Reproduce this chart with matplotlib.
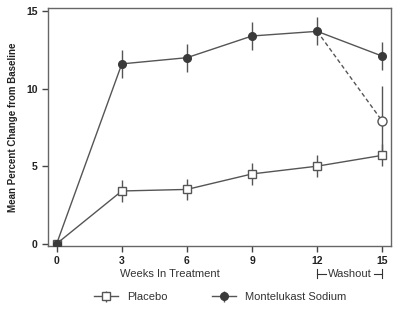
import matplotlib.pyplot as plt
import matplotlib.transforms as mtransforms

plt.rcParams['font.family'] = ['Liberation Sans', 'DejaVu Sans']

weeks = [0, 3, 6, 9, 12, 15]
montelukast = [0, 11.6, 12.0, 13.4, 13.7, 12.1]
montelukast_err = [0, 0.9, 0.9, 0.9, 0.9, 0.9]
placebo = [0, 3.4, 3.5, 4.5, 5.0, 5.7]
placebo_err = [0, 0.7, 0.7, 0.7, 0.7, 0.7]
washout_week = [12, 15]
washout = [13.7, 7.9]
washout_err = 2.3

c = '#3a3a3a'
fig = plt.figure(figsize=(4, 3.11), dpi=100)
ax = fig.add_axes([0.12, 0.209, 0.8575, 0.765])

ax.errorbar(weeks, placebo, yerr=placebo_err, color='#555555', lw=1,
            marker='s', ms=5.5, mfc='white', mec='#555555', elinewidth=1, capsize=0,
            label='Placebo', zorder=3)
ax.errorbar(weeks, montelukast, yerr=montelukast_err, color='#555555', lw=1,
            marker='o', ms=5.5, mfc=c, mec=c, elinewidth=1, capsize=0,
            label='Montelukast Sodium', zorder=4)
ax.plot(washout_week, washout, ls=(0, (3, 2)), color='#555555', lw=1, zorder=2)
ax.errorbar([washout_week[1]], [washout[1]], yerr=washout_err, color='#555555',
            marker='o', ms=6.5, mfc='white', mec='#555555', elinewidth=1, capsize=0,
            ls='none', zorder=3)

ax.set_xlim(-0.4, 15.4)
ax.set_ylim(-0.15, 15.2)
ax.set_xticks(weeks)
ax.set_yticks([0, 5, 10, 15])
ax.tick_params(direction='out', length=4, width=1, colors='#444444', labelsize=7.5)
for lab in ax.get_xticklabels() + ax.get_yticklabels():
    lab.set_fontweight('bold')
    lab.set_color('#222222')
for s in ax.spines.values():
    s.set_color('#666666')
    s.set_linewidth(1)

ax.set_ylabel('Mean Percent Change from Baseline', fontsize=7, fontweight='bold',
              color='#222222', labelpad=6)
fig.text(0.425, 0.12, 'Weeks In Treatment', ha='center', va='center',
         fontsize=8, color='#333333')

# washout bracket
tr = mtransforms.blended_transform_factory(ax.transData, fig.transFigure)
yb = 0.12
ax.text(13.5, yb, 'Washout', transform=tr, ha='center', va='center', fontsize=8,
        color='#333333')
for x0, x1 in [(12, 12.4), (14.6, 15)]:
    ax.plot([x0, x1], [yb, yb], transform=tr, color='#333333', lw=0.8, clip_on=False)
for x0 in (12, 15):
    ax.plot([x0, x0], [yb - 0.015, yb + 0.015], transform=tr, color='#333333',
            lw=0.8, clip_on=False)

h, l = ax.get_legend_handles_labels()
fig.legend(h, l, loc='center', bbox_to_anchor=(0.55, 0.045), ncol=2, frameon=False,
           fontsize=8, columnspacing=4, handlelength=2.2, labelcolor='#333333')

fig.savefig('out.png', dpi=100)
